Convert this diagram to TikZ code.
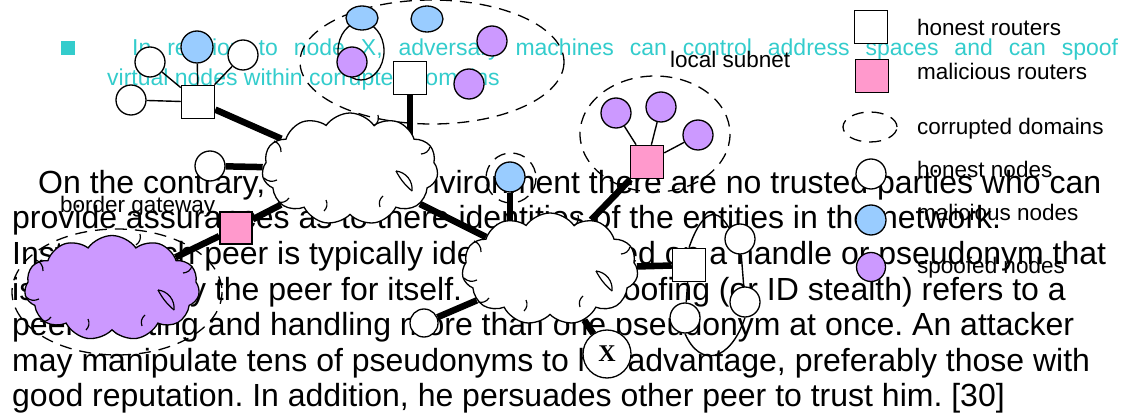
\documentclass[tikz,border=0pt]{standalone}
\usepackage{fontspec}
\setmainfont{Liberation Sans}
\newfontfamily\serifX{Liberation Serif}
\usetikzlibrary{shapes.symbols,shapes.geometric}
\definecolor{pinkr}{HTML}{FF99CC}
\definecolor{bluen}{HTML}{99CCFF}
\definecolor{purpn}{HTML}{CC99FF}
\definecolor{cyant}{HTML}{33CCCC}
\pgfdeclarelayer{textlayer}
\pgfdeclarelayer{linklayer}
\pgfsetlayers{textlayer,linklayer,main}
\frenchspacing
% small inner arcs of a PowerPoint-like cloud
\newcommand\cloudmarks[1]{%
 \draw[cloudmark] ([shift={(-76,-28)}]#1.center) to[bend left=35] ++(7,11);
 \draw[cloudmark] ([shift={(-86,9)}]#1.center) to[bend right=35] ++(13,2);
 \draw[cloudmark] ([shift={(-72,33)}]#1.center) to[bend right=35] ++(11,-4);
 \draw[cloudmark] ([shift={(28,-54)}]#1.center) to[bend left=35] ++(-4,11);
 \draw[cloudmark] ([shift={(80,-22)}]#1.center) to[bend left=35] ++(-9,7);
 \draw[cloudmark] ([shift={(46,2)}]#1.center) to[bend left=45] ++(16,20);
 \draw[cloudmark] ([shift={(46,2)}]#1.center) to[bend right=10] ++(16,20);
 \draw[cloudmark] ([shift={(30,38)}]#1.center) to[bend left=35] ++(3,-11);
 \draw[cloudmark] ([shift={(-26,42)}]#1.center) to[bend right=35] ++(2,-11);
}
\begin{document}
\begin{tikzpicture}[x=1pt,y=-1pt,
 body/.style={anchor=base west,inner sep=0pt,font=\fontsize{32}{36}\selectfont},
 lbl/.style={anchor=base west,inner sep=0pt,font=\fontsize{22.5}{27}\selectfont},
 cyantext/.style={anchor=base west,inner sep=0pt,text=cyant,font=\fontsize{23}{28}\selectfont},
 router/.style={draw,line width=1.5pt,minimum size=33pt,inner sep=0pt,fill=white},
 mrouter/.style={router,fill=pinkr},
 hnode/.style={draw,circle,line width=1.3pt,minimum size=30pt,inner sep=0pt,fill=white},
 mnode/.style={hnode,fill=bluen},
 snode/.style={hnode,fill=purpn},
 corrupt/.style={draw,line width=1.3pt,dash pattern=on 12pt off 8pt},
 net/.style={draw,cloud,cloud puffs=11,cloud puff arc=110,cloud ignores aspect,minimum width=176pt,minimum height=112pt,line width=1.3pt,fill=white,inner sep=0pt},
 cloudmark/.style={line width=1.2pt},
 biglink/.style={line width=6.5pt},
 link/.style={line width=1.4pt}
]
\useasboundingbox (0,0) rectangle (1125,414);

% ---- text beneath the drawing ----
\begin{pgfonlayer}{textlayer}
\node[fill=cyant,minimum size=14pt,inner sep=0pt] (bullet) at (68,48.5) {};
\node[cyantext] (ct1) at (132,56) {\makebox[986pt][s]{In relation to node X, adversary machines can control address spaces and can spoof}};
\node[cyantext] (ct2) at (107,86) {virtual nodes within corrupted domains};

\node[body] (t1) at (38,193.5) {On the contrary, in a P2P environment there are no trusted parties who can};
\node[body] (t2) at (12,229) {provide assurances as to there identities of the entities in the network.};
\node[body] (t3) at (12,264.5) {Instead each peer is typically identified based on a handle or pseudonym that};
\node[body] (t4) at (12,300) {is selected by the peer for itself.\hspace*{6pt} Identity spoofing (or ID stealth) refers to a};
\node[body] (t5) at (12,335.5) {peer creating and handling more than one pseudonym at once. An attacker};
\node[body] (t6) at (12,371) {may manipulate tens of pseudonyms to his advantage, preferably those with};
\node[body] (t7) at (12,406.5) {good reputation. In addition, he persuades other peer to trust him. [30]};
\end{pgfonlayer}

% ---- legend ----
\node[router] (lr1) at (871,27) {};
\node[lbl] (lt1) at (917,36) {honest routers};
\node[mrouter] (lr2) at (872,76) {};
\node[lbl] (lt2) at (917,80) {malicious routers};
\node[draw,ellipse,dash pattern=on 12pt off 8pt,line width=1.3pt,minimum width=54pt,minimum height=30pt,inner sep=0pt] (ld) at (870,127) {};
\node[lbl] (lt3) at (917,135) {corrupted domains};
\node[hnode] (ln1) at (871,174) {};
\node[lbl] (lt4) at (917,178) {honest nodes};
\node[mnode] (ln2) at (871,220) {};
\node[lbl] (lt5) at (917,221) {malicious nodes};
\node[snode,minimum size=29pt] (ln3) at (871,267) {};
\node[lbl] (lt6) at (917,273) {spoofed nodes};

% ---- labels ----
\node[lbl] (lsub) at (670,68) {local subnet};
\node[lbl] (lbg) at (60,213) {border gateway};

% ---- top-left cluster ----
\node[router] (r1) at (198,102) {};
\node[mnode,minimum size=32pt] (n1) at (197,47) {};
\node[hnode] (n2) at (150,62) {};
\node[hnode] (n3) at (243,55) {};
\node[hnode] (n4) at (131,100) {};

% ---- top corrupted domain ----
\begin{pgfonlayer}{linklayer}
\draw[corrupt] (432,62) ellipse (132 and 62);
\draw[line width=1.3pt] (361,51) ellipse (23 and 29);
\end{pgfonlayer}
\node[draw,ellipse,line width=1.3pt,fill=bluen,minimum width=32pt,minimum height=24pt,inner sep=0pt] (m1) at (362,18) {};
\node[draw,ellipse,line width=1.3pt,fill=bluen,minimum width=32pt,minimum height=26pt,inner sep=0pt] (m2) at (427,19) {};
\node[snode] (s1) at (352,62) {};
\node[snode] (s2) at (492,41) {};
\node[snode] (s3) at (469,84) {};
\node[router] (r2) at (410,78) {};

% ---- clouds ----
\node[net] (c1) at (350,169) {};
\cloudmarks{c1}
\node[net] (c2) at (550,269) {};
\cloudmarks{c2}
\node[net,fill=purpn,minimum width=175pt,minimum height=105pt] (c3) at (112,288) {};
\cloudmarks{c3}

% ---- border gateway ----
\node[hnode] (h5) at (210,166) {};
\node[mrouter,minimum size=32pt] (r3) at (236,228) {};

% ---- blue node near central cloud ----
\node[mnode] (m3) at (510,177) {};

% ---- local subnet ----
\node[mrouter] (r4) at (647,162) {};
\node[snode] (s4) at (616,113) {};
\node[snode] (s5) at (661,107) {};
\node[snode] (s6) at (698,135) {};

% ---- right part ----
\node[router] (r5) at (689,265) {};
\node[hnode] (h6) at (740,239) {};
\node[hnode] (h7) at (745,302) {};
\node[hnode] (h8) at (685,318) {};
\node[hnode,minimum size=28pt] (h9) at (424,323) {};
\node[hnode,minimum size=48pt,font=\serifX\bfseries\fontsize{24}{24}\selectfont] (x) at (607,354) {X};

% ---- connectors and domains (beneath nodes) ----
\begin{pgfonlayer}{linklayer}
\draw[corrupt] (117,292) ellipse (105 and 63);
\draw[corrupt] (511,178) circle (25);
\draw[corrupt] (655,134) ellipse (75 and 58);

\draw[link] (n1) -- (r1);
\draw[link] (n2) -- (r1);
\draw[link] (n3) -- (r1);
\draw[link] (n4) -- (r1);
\draw[biglink] (r1) -- (c1);
\draw[biglink] (r2) -- (r2 |- c1.center);
\draw[biglink] (h5) -- (c1);
\draw[biglink] (r3) -- (c1);
\draw[biglink] (r3) -- (c3);
\draw[biglink] (c1) -- (c2);
\draw[biglink] (m3) -- (m3 |- c2.center);
\draw[link] (s4) -- (r4);
\draw[link] (s5) -- (r4);
\draw[link] (s6) -- (r4);
\draw[biglink] (r4) -- (c2.50);
\draw[biglink] (c2) -- (r5);
\draw[biglink] (h9) -- (c2);
\draw[biglink] (c2) -- (x);
\draw[link] (r5.north) .. controls (700,215) and (715,203) .. (h6.north west);
\draw[link] (h6) -- (h7);
\draw[link] (r5) -- (h8);
\draw[link] (h8.south) .. controls (700,368) and (730,362) .. (h7.south);
\end{pgfonlayer}
\end{tikzpicture}
\end{document}
